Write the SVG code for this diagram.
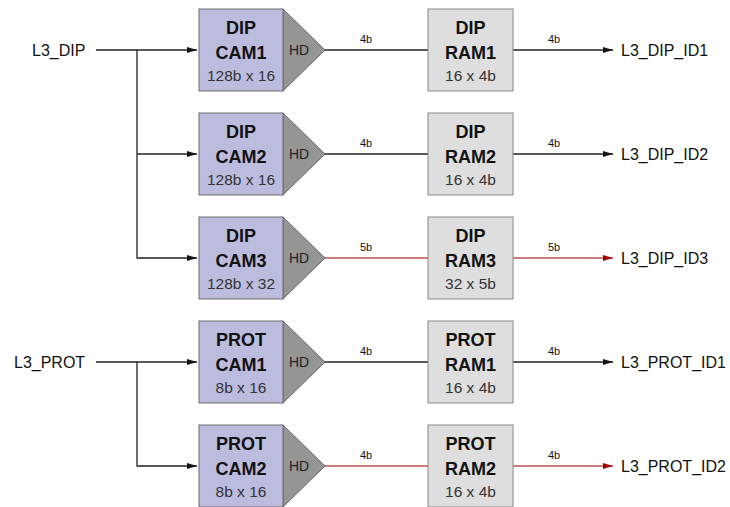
<svg xmlns="http://www.w3.org/2000/svg" width="730" height="507" viewBox="0 0 730 507">
<defs>
<marker id="ah" viewBox="0 0 10 6" refX="10" refY="3" markerWidth="10" markerHeight="6" markerUnits="userSpaceOnUse" orient="auto"><path d="M0,0 L10,3 L0,6 Z" fill="#111"/></marker>
<marker id="ahr" viewBox="0 0 10 6" refX="10" refY="3" markerWidth="10" markerHeight="6" markerUnits="userSpaceOnUse" orient="auto"><path d="M0,0 L10,3 L0,6 Z" fill="#a00000"/></marker>
</defs>
<style>
text{font-family:"Liberation Sans",Arial,sans-serif;fill:#111}
.cam{fill:#bcbcdf;stroke:#6a6a6a;stroke-width:1}
.ram{fill:#dedede;stroke:#8a8a8a;stroke-width:1}
.hd{fill:#959595;stroke:#6a6a6a;stroke-width:1}
.t{font-size:18px;font-weight:bold;text-anchor:middle}
.s{font-size:15.5px;text-anchor:middle;fill:#333}
.h{font-size:14px;fill:#222}
.l{font-size:16px}
.b{font-size:11px;text-anchor:middle}
.w{fill:none;stroke:#222;stroke-width:1.3}
.r{fill:none;stroke:#c05050;stroke-width:1.3}
</style>
<g id="connectors">
<path class="w" d="M96,50 H197" marker-end="url(#ah)"/>
<path class="w" d="M137,50 V258 H197" marker-end="url(#ah)"/>
<path class="w" d="M137,154 H197" marker-end="url(#ah)"/>
<path class="w" d="M96,362 H197" marker-end="url(#ah)"/>
<path class="w" d="M137,362 V466 H197" marker-end="url(#ah)"/>
<path class="w" d="M325,50 H428"/><path class="w" d="M513,50 H613" marker-end="url(#ah)"/>
<path class="w" d="M325,154 H428"/><path class="w" d="M513,154 H613" marker-end="url(#ah)"/>
<path class="r" d="M325,258 H428"/><path class="r" d="M513,258 H613" marker-end="url(#ahr)"/>
<path class="w" d="M325,362 H428"/><path class="w" d="M513,362 H613" marker-end="url(#ah)"/>
<path class="r" d="M325,466 H428"/><path class="r" d="M513,466 H613" marker-end="url(#ahr)"/>
<text class="b" x="366" y="43">4b</text><text class="b" x="554" y="43">4b</text>
<text class="b" x="366" y="147">4b</text><text class="b" x="554" y="147">4b</text>
<text class="b" x="366" y="251">5b</text><text class="b" x="554" y="251">5b</text>
<text class="b" x="366" y="355">4b</text><text class="b" x="554" y="355">4b</text>
<text class="b" x="366" y="459">4b</text><text class="b" x="554" y="459">4b</text>
</g>
<g id="in_dip"><text class="l" x="32" y="56">L3_DIP</text></g>
<g id="in_prot"><text class="l" x="14" y="368">L3_PROT</text></g>
<g id="cam_dip1"><path class="hd" d="M283,9 L325,50 L283,91 Z"/><rect class="cam" x="199" y="9" width="84" height="82"/><text class="h" x="289" y="55">HD</text><text class="t" x="241" y="34">DIP</text><text class="t" x="241" y="59">CAM1</text><text class="s" x="241" y="81">128b x 16</text></g>
<g id="cam_dip2"><path class="hd" d="M283,113 L325,154 L283,195 Z"/><rect class="cam" x="199" y="113" width="84" height="82"/><text class="h" x="289" y="159">HD</text><text class="t" x="241" y="138">DIP</text><text class="t" x="241" y="163">CAM2</text><text class="s" x="241" y="185">128b x 16</text></g>
<g id="cam_dip3"><path class="hd" d="M283,217 L325,258 L283,299 Z"/><rect class="cam" x="199" y="217" width="84" height="82"/><text class="h" x="289" y="263">HD</text><text class="t" x="241" y="242">DIP</text><text class="t" x="241" y="267">CAM3</text><text class="s" x="241" y="289">128b x 32</text></g>
<g id="cam_prot1"><path class="hd" d="M283,321 L325,362 L283,403 Z"/><rect class="cam" x="199" y="321" width="84" height="82"/><text class="h" x="289" y="367">HD</text><text class="t" x="241" y="346">PROT</text><text class="t" x="241" y="371">CAM1</text><text class="s" x="241" y="393">8b x 16</text></g>
<g id="cam_prot2"><path class="hd" d="M283,425 L325,466 L283,507 Z"/><rect class="cam" x="199" y="425" width="84" height="82"/><text class="h" x="289" y="471">HD</text><text class="t" x="241" y="450">PROT</text><text class="t" x="241" y="475">CAM2</text><text class="s" x="241" y="497">8b x 16</text></g>
<g id="ram_dip1"><rect class="ram" x="428" y="9" width="85" height="82"/><text class="t" x="470.5" y="34">DIP</text><text class="t" x="470.5" y="59">RAM1</text><text class="s" x="470.5" y="81">16 x 4b</text></g>
<g id="ram_dip2"><rect class="ram" x="428" y="113" width="85" height="82"/><text class="t" x="470.5" y="138">DIP</text><text class="t" x="470.5" y="163">RAM2</text><text class="s" x="470.5" y="185">16 x 4b</text></g>
<g id="ram_dip3"><rect class="ram" x="428" y="217" width="85" height="82"/><text class="t" x="470.5" y="242">DIP</text><text class="t" x="470.5" y="267">RAM3</text><text class="s" x="470.5" y="289">32 x 5b</text></g>
<g id="ram_prot1"><rect class="ram" x="428" y="321" width="85" height="82"/><text class="t" x="470.5" y="346">PROT</text><text class="t" x="470.5" y="371">RAM1</text><text class="s" x="470.5" y="393">16 x 4b</text></g>
<g id="ram_prot2"><rect class="ram" x="428" y="425" width="85" height="82"/><text class="t" x="470.5" y="450">PROT</text><text class="t" x="470.5" y="475">RAM2</text><text class="s" x="470.5" y="497">16 x 4b</text></g>
<g id="out_dip1"><text class="l" x="621" y="56">L3_DIP_ID1</text></g>
<g id="out_dip2"><text class="l" x="621" y="160">L3_DIP_ID2</text></g>
<g id="out_dip3"><text class="l" x="621" y="264">L3_DIP_ID3</text></g>
<g id="out_prot1"><text class="l" x="621" y="368">L3_PROT_ID1</text></g>
<g id="out_prot2"><text class="l" x="621" y="472">L3_PROT_ID2</text></g>
</svg>
